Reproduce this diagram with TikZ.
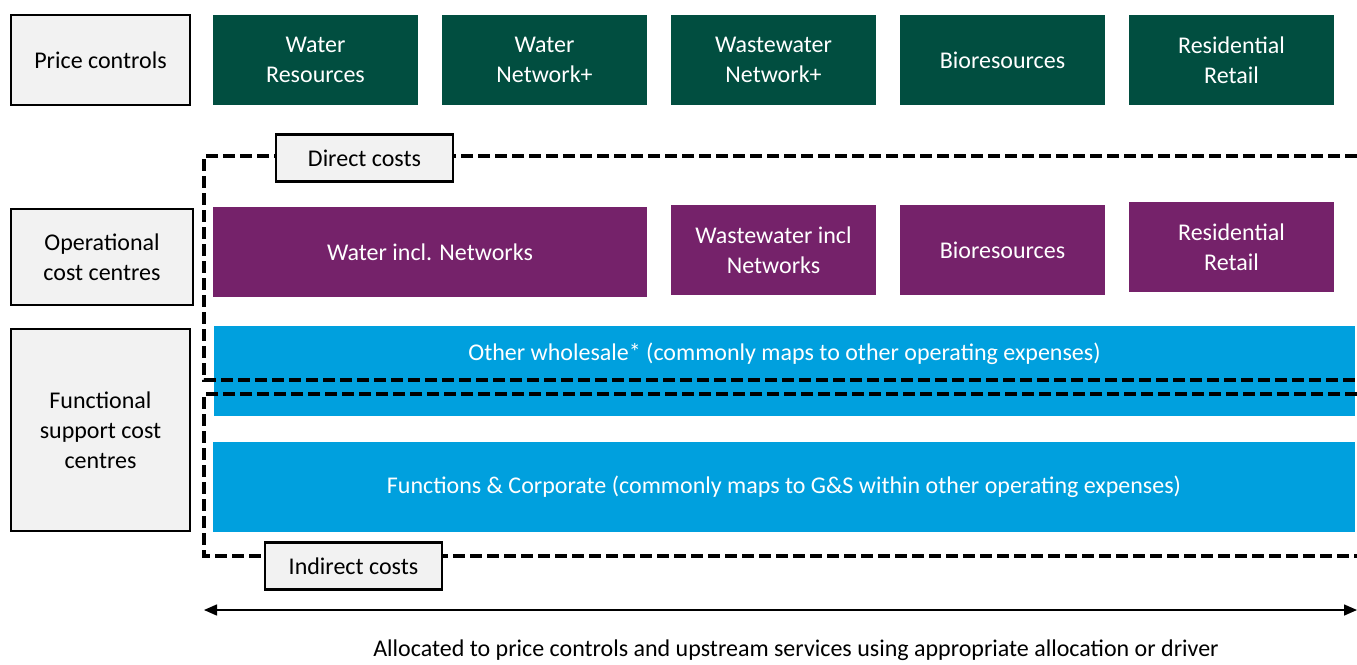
\documentclass[tikz,border=0pt]{standalone}
\usepackage{fontspec}
\setmainfont{Carlito}
\definecolor{pcgreen}{RGB}{1, 78, 64}
\definecolor{ccpurple}{RGB}{117, 34, 106}
\definecolor{fsblue}{RGB}{0, 160, 222}
\definecolor{lightgrey}{RGB}{242, 242, 242}
\usetikzlibrary{arrows.meta, positioning}
\newcommand{\costfont}{\fontsize{24}{30}\selectfont}
\tikzset{
  rowlabel/.style={draw=black, line width=2.5pt, fill=lightgrey, align=center, inner sep=0pt, font=\costfont},
  pcbox/.style={fill=pcgreen, text=white, align=center, inner sep=0pt, minimum width=205pt, minimum height=90pt, font=\costfont},
  ccbox/.style={fill=ccpurple, text=white, align=center, inner sep=0pt, minimum height=90pt, font=\costfont},
  fsbox/.style={fill=fsblue, text=white, align=center, inner sep=0pt, minimum height=90pt, font=\costfont},
  costline/.style={line width=3.5pt, dash pattern=on 12pt off 5pt},
  costlabel/.style={draw=black, line width=2.5pt, fill=lightgrey, inner sep=0pt, minimum width=177pt, minimum height=47pt, font=\costfont}
}

\begin{document}
\begin{tikzpicture}[x=1pt, y=-1pt]
  \useasboundingbox (0,0) rectangle (1357,664);

  % Row labels
  \node[rowlabel, minimum width=179pt, minimum height=90pt] (pricectrl) at (100.5, 60) {Price controls};
  \node[rowlabel, minimum width=182pt, minimum height=96pt] (opcentres) at (102, 257) {Operational\\cost centres};
  \node[rowlabel, minimum width=179pt, minimum height=202pt] (fscentres) at (100.5, 430) {Functional\\support cost\\centres};

  % Price controls
  \node[pcbox] (waterres) at (315.5, 60) {Water\\Resources};
  \node[pcbox] (waternet) at (544.5, 60) {Water\\Network+};
  \node[pcbox] (wastenet) at (773.5, 60) {Wastewater\\Network+};
  \node[pcbox] (biopc) at (1002.5, 60) {Bioresources};
  \node[pcbox] (retailpc) at (1231.5, 60) {Residential\\Retail};

  % Operational cost centres
  \node[ccbox, minimum width=434pt] (waterincl) at (430, 252) {Water incl. Networks};
  \node[ccbox, minimum width=205pt] (wasteincl) at (773.5, 250) {Wastewater incl\\Networks};
  \node[ccbox, minimum width=205pt] (biocc) at (1002.5, 250) {Bioresources};
  \node[ccbox, minimum width=205pt] (retailcc) at (1231.5, 247) {Residential\\Retail};

  % Functional support cost centres
  \node[fsbox, minimum width=1141pt] (otherws) at (784.5, 371) {};
  \node[text=white, font=\costfont, inner sep=0pt] (otherwstext) at ([yshift=17pt]otherws.center) {Other wholesale* (commonly maps to other operating expenses)};
  \node[fsbox, minimum width=1142pt] (functions) at (784, 487) {Functions \& Corporate (commonly maps to G\&S within other operating expenses)};

  % Direct and indirect costs
  \draw[costline] (1357, 156) -- (204, 156) -- (204, 380) -- (1357, 380);
  \draw[costline] (1357, 394) -- (204, 394) -- (204, 556) -- (1357, 556);
  \node[costlabel] (direct) at (364.5, 158) {Direct costs};
  \node[costlabel] (indirect) at (353.5, 566) {Indirect costs};

  % Allocation
  \coordinate (allocL) at (204, 610);
  \coordinate (allocR) at (1357, 610);
  \draw[{Triangle[length=13pt, width=11pt]}-{Triangle[length=13pt, width=11pt]}, line width=1.5pt] (allocL) -- (allocR);
  \node[font=\costfont, anchor=base, inner sep=0pt] (alloctext) at (796, 656) {Allocated to price controls and upstream services using appropriate allocation or driver};
\end{tikzpicture}
\end{document}
